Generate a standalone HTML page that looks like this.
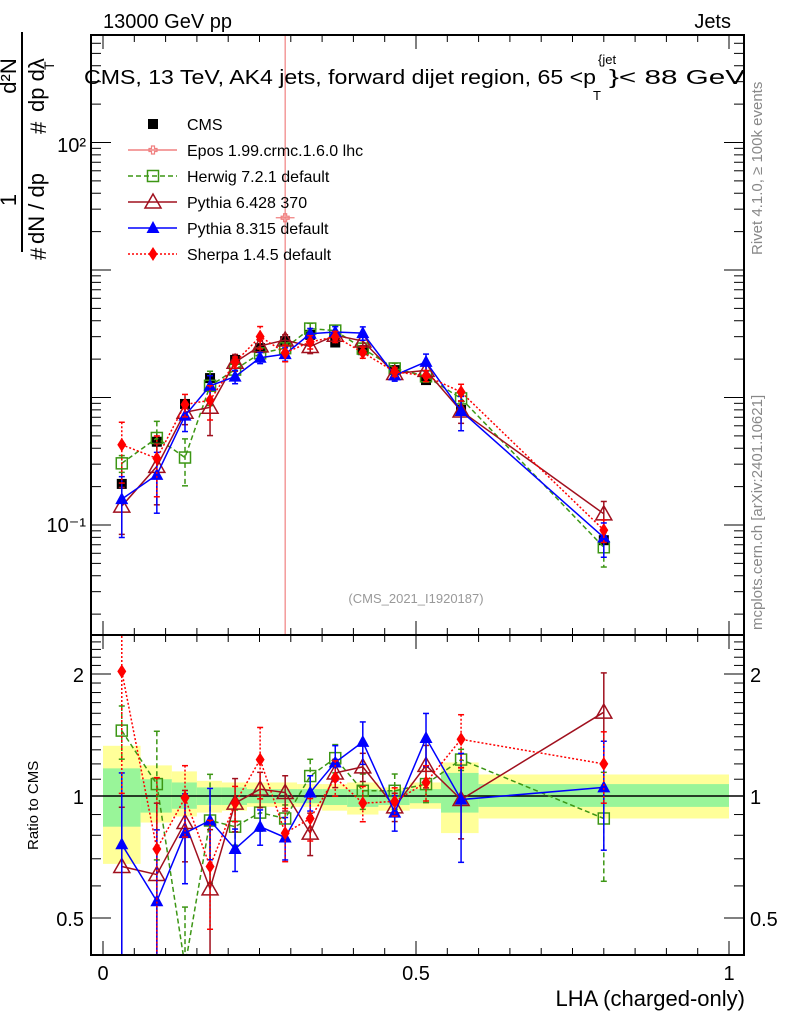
<!DOCTYPE html>
<html><head><meta charset="utf-8"><style>
body{margin:0;background:#fff}
svg{display:block;font-family:"Liberation Sans",sans-serif}
</style></head><body>
<svg id="c" width="786" height="1024" viewBox="0 0 786 1024" xmlns="http://www.w3.org/2000/svg">
<defs>
<clipPath id="cm"><rect x="91" y="35" width="653" height="600"/></clipPath>
<clipPath id="cr"><rect x="91" y="635" width="653" height="320"/></clipPath>
</defs>
<g id="bands" clip-path="url(#cr)"></g>
<g id="mainMarks" clip-path="url(#cm)"></g>
<g id="ratioMarks" clip-path="url(#cr)"></g>
<g id="axes"></g>
<text x="103" y="28" font-size="20">13000 GeV pp</text>
<text x="731" y="28" font-size="20" text-anchor="end">Jets</text>
<g>
<text x="84" y="84" font-size="20" textLength="512" lengthAdjust="spacingAndGlyphs">CMS, 13 TeV, AK4 jets, forward dijet region, 65 &lt;p</text>
<text x="609" y="84" font-size="20" textLength="136" lengthAdjust="spacingAndGlyphs">}&lt; 88 GeV</text>
<text x="598" y="64" font-size="13">{jet</text>
<text x="593" y="100" font-size="13">T</text>
</g>
<text x="416" y="603" font-size="13" fill="#999" text-anchor="middle">(CMS_2021_I1920187)</text>
<text transform="translate(762,255) rotate(-90)" font-size="15" fill="#888">Rivet 4.1.0, ≥ 100k events</text>
<text transform="translate(762,630) rotate(-90)" font-size="15" fill="#888">mcplots.cern.ch [arXiv:2401.10621]</text>
<g font-size="22">
<line x1="22" y1="32" x2="22" y2="252" stroke="#000" stroke-width="2"/>
<text transform="translate(16,200) rotate(-90)" text-anchor="middle">1</text>
<text transform="translate(46,260) rotate(-90)">#</text>
<text transform="translate(44,244) rotate(-90)">dN / dp</text>
<text transform="translate(46,134) rotate(-90)">#</text>
<text transform="translate(16,76) rotate(-90)" text-anchor="middle">d²N</text>
<text transform="translate(44,112) rotate(-90)">dp  dλ</text>
<text transform="translate(54,70) rotate(-90)" font-size="14">T</text>
</g>
<text transform="translate(38,850) rotate(-90)" font-size="15">Ratio to CMS</text>
<text x="745" y="1006" font-size="22" text-anchor="end">LHA (charged-only)</text>
<g id="legend"></g>
</svg>
<script>
const binEdges=[0,0.06,0.11,0.15,0.19,0.23,0.27,0.31,0.35,0.39,0.44,0.49,0.54,0.6,1.0];
const xCenters=[0.03,0.086,0.131,0.171,0.211,0.251,0.291,0.331,0.371,0.415,0.466,0.516,0.572,0.80];
const cmsValues=[0.21,0.45,0.89,1.42,1.97,2.44,2.77,3.1,2.7,2.35,1.64,1.37,0.80,0.076];
const bandYellowUp=[1.33,1.19,1.15,1.09,1.08,1.08,1.08,1.07,1.07,1.08,1.05,1.08,1.21,1.13];
const bandYellowDn=[0.68,0.86,0.89,0.91,0.92,0.94,0.94,0.94,0.92,0.90,0.92,0.93,0.81,0.88];
const bandGreenUp=[1.17,1.10,1.08,1.05,1.05,1.04,1.04,1.04,1.04,1.04,1.03,1.04,1.14,1.07];
const bandGreenDn=[0.84,0.91,0.93,0.95,0.95,0.96,0.96,0.96,0.95,0.94,0.95,0.96,0.91,0.94];
const herwigRatio=[1.45,1.07,0.38,0.87,0.84,0.91,0.88,1.12,1.24,1.03,1.03,1.07,1.23,0.88];
const herwigErr=[0.15,0.35,0.4,0.3,0.1,0.1,0.08,0.1,0.08,0.1,0.1,0.1,0.06,0.3];
const py6Ratio=[0.67,0.64,0.86,0.59,0.96,1.04,1.02,0.81,1.14,1.18,0.94,1.19,0.98,1.61];
const py6Err=[0.4,0.5,0.2,0.4,0.15,0.1,0.1,0.12,0.08,0.08,0.08,0.12,0.2,0.25];
const py8Ratio=[0.76,0.55,0.81,0.87,0.74,0.84,0.79,1.02,1.21,1.36,0.91,1.39,0.98,1.05];
const py8Err=[0.5,0.5,0.25,0.2,0.12,0.1,0.12,0.1,0.1,0.12,0.1,0.15,0.3,0.3];
const sherpaRatio=[2.03,0.74,0.99,0.67,0.96,1.23,0.81,0.88,1.11,0.96,0.97,1.08,1.38,1.20];
const sherpaErr=[0.5,0.5,0.2,0.3,0.1,0.2,0.15,0.12,0.1,0.1,0.08,0.1,0.15,0.2];
const eposX=[0.291];
const eposValues=[25.7];

const NS="http://www.w3.org/2000/svg";
const X=v=>103+626*v;
const YM=v=>525-127.5*Math.log10(v/0.1);
const YR=r=>796-122*Math.log2(r);
function mk(tag,at,parent){const e=document.createElementNS(NS,tag);for(const k in at)e.setAttribute(k,at[k]);parent.appendChild(e);return e;}
const G=id=>document.getElementById(id);

const bands=G('bands');
for(let i=0;i<xCenters.length;i++){
  const x0=X(binEdges[i]),x1=X(binEdges[i+1]);
  const y=mk('rect',{x:x0,y:YR(bandYellowUp[i]),width:x1-x0,height:YR(bandYellowDn[i])-YR(bandYellowUp[i]),fill:'#ffff99'},bands);
  
  
  const g=mk('rect',{x:x0,y:YR(bandGreenUp[i]),width:x1-x0,height:YR(bandGreenDn[i])-YR(bandGreenUp[i]),fill:'#99f599'},bands);
  
  
}
const one=mk('line',{x1:91,x2:744,y1:YR(1),y2:YR(1),stroke:'#000','stroke-width':1.5},bands);



function marker(p,type,col,x,y,name){
  let e;
  if(type==='sq') e=mk('rect',{x:x-5,y:y-5,width:10,height:10,fill:col},p);
  else if(type==='osq') e=mk('rect',{x:x-5.5,y:y-5.5,width:11,height:11,fill:'#fff','fill-opacity':0,stroke:col,'stroke-width':1.5},p);
  else if(type==='otri') e=mk('polygon',{points:`${x},${y-8} ${x-8},${y+6} ${x+8},${y+6}`,fill:'none',stroke:col,'stroke-width':1.5},p);
  else if(type==='tri') e=mk('polygon',{points:`${x},${y-7} ${x-6.5},${y+5} ${x+6.5},${y+5}`,fill:col},p);
  else if(type==='dia') e=mk('polygon',{points:`${x},${y-7} ${x-4.5},${y} ${x},${y+7} ${x+4.5},${y}`,fill:col},p);
  else { e=mk('path',{d:`M${x-4},${y-1.5}h2.5v-2.5h3v2.5h2.5v3h-2.5v2.5h-3v-2.5h-2.5z`,fill:'none',stroke:col,'stroke-width':1.2},p);}
  
  
}
function errbar(p,col,dash,x,y1,y2){
  mk('line',{x1:x,x2:x,y1:y1,y2:y2,stroke:col,'stroke-width':1.5,'stroke-dasharray':dash},p);
  mk('line',{x1:x-3,x2:x+3,y1:y1,y2:y1,stroke:col,'stroke-width':1.5},p);
  mk('line',{x1:x-3,x2:x+3,y1:y2,y2:y2,stroke:col,'stroke-width':1.5},p);
}
const series=[
 {n:'herwig',r:herwigRatio,e:herwigErr,c:'#3c9614',d:'5,3',m:'osq'},
 {n:'pythia6',r:py6Ratio,e:py6Err,c:'#a0101e',d:'',m:'otri'},
 {n:'pythia8',r:py8Ratio,e:py8Err,c:'#0000ff',d:'',m:'tri'},
 {n:'sherpa',r:sherpaRatio,e:sherpaErr,c:'#ff0000',d:'2,2',m:'dia'}
];
const MM=G('mainMarks'),RM=G('ratioMarks');
for(let i=0;i<eposX.length;i++){
  const x=X(eposX[i]),y=YM(eposValues[i]);
  mk('line',{x1:x,x2:x,y1:35,y2:635,stroke:'#f08080','stroke-width':1.2},MM);
  mk('line',{x1:X(eposX[i]-0.015),x2:X(eposX[i]+0.015),y1:y,y2:y,stroke:'#f08080','stroke-width':1.2},MM);
  marker(MM,'cross','#f08080',x,y,'epos-point');
}
for(let i=0;i<xCenters.length;i++){
  const x=X(xCenters[i]);
  mk('line',{x1:x,x2:x,y1:YM(cmsValues[i]*bandYellowUp[i]),y2:YM(cmsValues[i]*bandYellowDn[i]),stroke:'#000','stroke-width':1.2},MM);
  marker(MM,'sq','#000',x,YM(cmsValues[i]),'cms-point');
}
for(const s of series){
  for(const [P,fy] of [[MM,(i,f)=>YM(cmsValues[i]*s.r[i]*f)],[RM,(i,f)=>YR(s.r[i]*f)]]){
    const pts=xCenters.map((v,i)=>`${X(v)},${fy(i,1)}`).join(' ');
    const l=mk('polyline',{points:pts,fill:'none',stroke:s.c,'stroke-width':1.5,'stroke-dasharray':s.d},P);
    
    
    for(let i=0;i<xCenters.length;i++){
      errbar(P,s.c,s.d,X(xCenters[i]),fy(i,1+s.e[i]),fy(i,Math.max(0.05,1-s.e[i])));
      marker(P,s.m,s.c,X(xCenters[i]),fy(i,1),s.n+'-point');
    }
  }
}
const A=G('axes');
function ln(x1,y1,x2,y2,w){mk('line',{x1,y1,x2,y2,stroke:'#000','stroke-width':w||1},A);}
const fr1=mk('rect',{x:91,y:35,width:653,height:600,fill:'none',stroke:'#000','stroke-width':2},A);


const fr2=mk('rect',{x:91,y:635,width:653,height:320,fill:'none',stroke:'#000','stroke-width':2},A);


for(let k=0;k<=20;k++){
  const v=k*0.05,x=X(v),L=(k%10===0)?14:7;
  for(const [yb,yt] of [[635,35],[955,635]]){ln(x,yb,x,yb-L);ln(x,yt,x,yt+L);}
}
for(let e=-2;e<=2;e++)for(let m=1;m<=9;m++){
  const v=m*Math.pow(10,e),y=YM(v);
  if(y<36||y>634)continue;
  const L=m===1?20:10;ln(91,y,91+L,y);ln(744,y,744-L,y);
}
for(let k=4;k<=24;k++){
  const v=k/10,y=YR(v);if(y<636||y>954)continue;
  const L=(k===5||k===10||k===20)?20:10;ln(91,y,91+L,y);ln(744,y,744-L,y);
}
const lab=(x,y,t,a,fs,name)=>{const e=mk('text',{x,y,'text-anchor':a,'font-size':fs},A);e.textContent=t;};
lab(86,532,'10⁻¹','end',20,'y-tick-label');
lab(86,152,'10²','end',20,'y-tick-label');
for(const [v,t] of [[2,'2'],[1,'1'],[0.5,'0.5']]){lab(84,YR(v)+8,t,'end',20,'ratio-tick-label');lab(750,YR(v)+8,t,'start',20,'ratio-tick-label');}
for(const [v,t] of [[0,'0'],[0.5,'0.5'],[1,'1']])lab(X(v),980,t,'middle',20,'x-tick-label');
const Lg=G('legend');
const leg=[['CMS','sq','#000',''],['Epos 1.99.crmc.1.6.0 lhc','cross','#f08080',''],['Herwig 7.2.1 default','osq','#3c9614','5,3'],['Pythia 6.428 370','otri','#a0101e',''],['Pythia 8.315 default','tri','#0000ff',''],['Sherpa 1.4.5 default','dia','#ff0000','2,2']];
leg.forEach((l,i)=>{
  const y=124+i*26;
  if(i>0)mk('line',{x1:128,x2:177,y1:y,y2:y,stroke:l[2],'stroke-width':1.5,'stroke-dasharray':l[3]},Lg);
  marker(Lg,l[1],l[2],153,y,'legend-marker');
  const t=mk('text',{x:187,y:y+6,'font-size':16},Lg);t.textContent=l[0];
  
  
});
</script>
</body></html>
